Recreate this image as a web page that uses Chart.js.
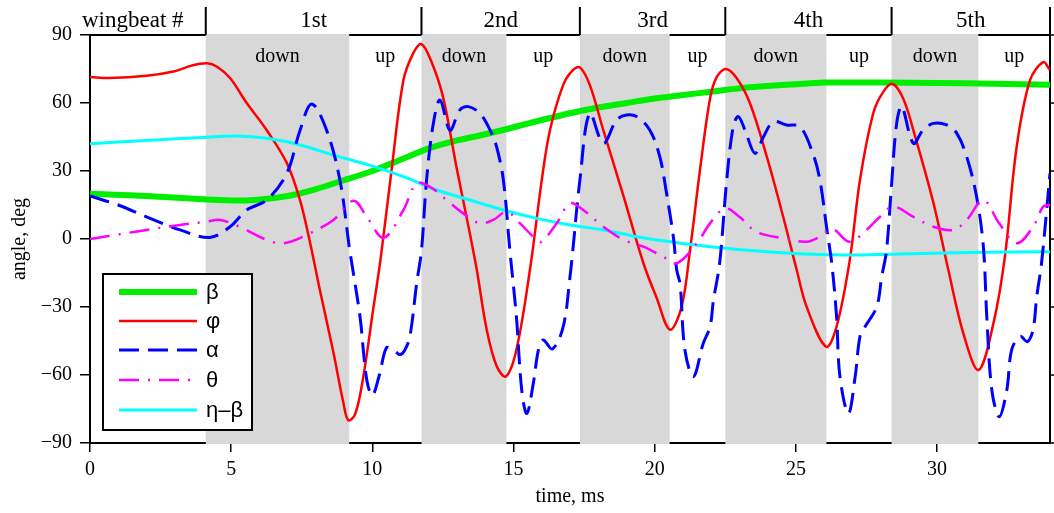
<!DOCTYPE html>
<html>
<head>
<meta charset="utf-8">
<script src="https://cdn.jsdelivr.net/npm/chart.js@4.4.1/dist/chart.umd.min.js"></script>
<style>
  html, body { margin: 0; padding: 0; background: #fff; }
  #wrap { width: 1054px; height: 513px; }
</style>
</head>
<body>
<div id="wrap"><canvas id="chart" width="1054" height="513"></canvas></div>
<script>
// fases do batimento (ms)
const downStart = [4.1, 11.74, 17.35, 22.5, 28.39];
const downEnd   = [9.18, 14.75, 20.53, 26.08, 31.46];
const wingbeatLabels = ['1st', '2nd', '3rd', '4th', '5th'];
const xMax = 34;

// beta
const betaT = [0, 2, 4, 5.5, 7, 8, 9, 10, 11, 12, 13, 14, 15, 16, 17, 18, 19, 20, 21, 22, 23, 24, 25, 26, 27, 28, 30, 32, 34];
const betaV = [20, 19, 17.5, 17, 19, 22, 26, 30, 35, 40, 43.5, 46.2, 49.3, 52.5, 55.5, 58, 60, 62, 63.5, 65, 66.5, 67.5, 68.3, 69, 69, 69, 68.8, 68.5, 68];

// phi
const phiT = [0, 0.7, 2, 3, 3.6, 4.15, 4.5, 4.96, 5.55, 6.26, 6.97, 7.44, 7.8, 8.15, 8.62, 8.97, 9.15, 9.4, 9.68, 10.03, 10.3, 10.68, 11.1, 11.45, 11.74, 12.1, 12.5, 13.0, 13.46, 13.7, 14.05, 14.4, 14.73, 15.1, 15.58, 16.0, 16.29, 16.76, 17.1, 17.35, 17.7, 18.18, 18.9, 19.6, 20.07, 20.54, 20.95, 21.25, 21.6, 21.96, 22.2, 22.52, 22.9, 23.37, 23.97, 24.55, 25.03, 25.38, 26.07, 26.44, 26.9, 27.27, 27.74, 28.1, 28.43, 28.8, 29.16, 29.87, 30.4, 30.93, 31.47, 32.0, 32.4, 32.82, 33.29, 33.76, 34];
const phiV = [71.5, 71, 72, 74, 76.5, 77.5, 76, 71, 60, 48, 33.5, 17, -2, -23, -50, -72, -80, -77, -60.7, -31, -8, 30.4, 70, 82, 86, 78, 62.8, 30.4, 2, -13.7, -40, -56, -60.7, -49, -13.7, 26, 48, 68, 74.5, 75.7, 68, 48, 18.7, -10.7, -26, -40, -30, -5, 30, 62, 71.5, 75, 71, 60, 36.3, 9.8, -13.7, -29.9, -47.5, -38.7, -10, 26, 55.5, 65, 68.4, 62, 48, 16, -13.7, -41.6, -57.8, -37, -8, 40.7, 70, 78, 74.5];

// alpha
const alphaT = [0, 1, 2, 3.19, 4.25, 4.96, 5.55, 6.26, 6.97, 7.44, 7.85, 8.38, 8.85, 9.2, 9.56, 9.8, 10.0, 10.25, 10.5, 10.75, 10.98, 11.15, 11.33, 11.57, 11.74, 11.92, 12.16, 12.4, 12.75, 13.1, 13.4, 13.81, 14.17, 14.4, 14.64, 14.87, 15.1, 15.29, 15.47, 15.7, 15.88, 16.05, 16.38, 16.76, 17.0, 17.1, 17.35, 17.7, 18.18, 18.65, 19.0, 19.36, 19.83, 20.18, 20.4, 20.66, 20.78, 20.9, 21.07, 21.37, 21.72, 21.96, 22.08, 22.3, 22.55, 22.78, 22.96, 23.2, 23.55, 23.85, 24.2, 24.67, 25.15, 25.6, 25.85, 26.1, 26.27, 26.44, 26.56, 26.86, 27.1, 27.27, 27.45, 27.86, 28.04, 28.21, 28.4, 28.57, 28.75, 29.16, 29.5, 29.87, 30.34, 30.7, 31.05, 31.4, 31.64, 31.76, 31.94, 32.2, 32.47, 32.64, 32.94, 33.2, 33.4, 33.53, 33.7, 34];
const alphaV = [19, 15, 9.8, 4, 0.7, 5.4, 12.8, 17.2, 29, 48, 59.6, 48, 26, -5, -34, -62, -69, -60, -48, -49, -51, -49, -43, -19.5, -5, 26, 51, 61.3, 48, 57, 58.4, 55.4, 48, 40.7, 26, -5, -34, -66.6, -77, -63.7, -49, -44.6, -48.5, -38.7, -16.6, -5, 26, 55.4, 42.2, 52.5, 54.7, 54, 48, 36.3, 21.6, 1, -13.7, -20, -49, -60.7, -46, -38.7, -27, -10.7, 26, 49.5, 54, 48, 37.8, 45, 51.7, 50.3, 49.5, 37.8, 26, 4, -10.7, -34, -60.7, -77, -60.7, -43, -38.7, -30, -16.6, -5, 26, 51, 58.4, 42.2, 48, 51, 50.3, 46.6, 36.3, 18.7, -3.4, -34, -66.6, -78.4, -66.6, -49, -43, -45.3, -40, -25.4, -10.7, 29];

// theta
const thetaT = [0, 1, 2, 3.19, 4.13, 4.6, 5.3, 6.26, 6.85, 7.67, 8.62, 9.33, 9.8, 10.4, 11.1, 11.57, 12.04, 12.63, 13.22, 13.81, 14.28, 14.76, 15.23, 15.82, 16.0, 16.53, 17.0, 17.47, 18.18, 18.9, 19.6, 20.3, 20.78, 21.49, 21.96, 22.49, 23.0, 23.6, 24.55, 25.38, 25.85, 26.3, 26.9, 27.5, 27.98, 28.45, 29.16, 29.87, 30.58, 31.05, 31.64, 32.2, 32.82, 33.4, 33.76, 34];
const thetaV = [0, 2, 4, 6.2, 7.6, 8.4, 5.4, -0.4, -1.9, 1.8, 8.4, 16.9, 9.8, 0.5, 12.8, 24.6, 23, 17.2, 11.3, 6.9, 8.4, 12, 6.9, -0.4, -1.2, 6.9, 15.7, 12.8, 5.4, -0.4, -3.4, -7.8, -10.7, -1.9, 6.9, 13.5, 9.8, 3.2, 0.3, -1.2, 1, 4.3, -1.2, 4, 9.8, 14.3, 9.8, 5.4, 4, 8.4, 17.2, 6.9, -1.9, 5.4, 14.3, 15];

// eta - beta
const etaT = [0, 2, 4.13, 5.19, 6.26, 7.44, 8.62, 9.9, 11.1, 12.28, 13.46, 14.64, 15.82, 17, 18.18, 19.36, 20.54, 21.96, 23.97, 26.3, 28.7, 31.05, 34];
const etaV = [42, 43.5, 44.9, 45.4, 44.4, 41.5, 37, 32.6, 27.5, 21.6, 17.2, 12.8, 9.1, 6.2, 4, 1, -1.2, -3.4, -5.6, -7, -6.6, -6, -5.6];

const pts = (t, v) => t.map((x, i) => ({x, y: v[i]}));

const SERIF = '"Liberation Serif", "Times New Roman", serif';

const decor = {
  id: 'decor',
  beforeDatasetsDraw(chart) {
    const {ctx, chartArea: a, scales: {x, y}} = chart;
    ctx.save();
    ctx.strokeStyle = '#000';
    ctx.lineWidth = 2;
    // borda superior e direita
    ctx.beginPath();
    ctx.moveTo(a.left, a.top); ctx.lineTo(a.right, a.top);
    ctx.moveTo(a.right, 7); ctx.lineTo(a.right, a.bottom);
    ctx.stroke();
    // ticks da direita
    ctx.lineWidth = 1.5;
    ctx.beginPath();
    y.ticks.forEach(t => {
      const py = y.getPixelForValue(t.value);
      ctx.moveTo(a.right, py); ctx.lineTo(a.right + 8, py);
    });
    ctx.stroke();
    // faixas cinzas (downstroke)
    ctx.fillStyle = '#d8d8d8';
    downStart.forEach((s, i) => {
      const x0 = x.getPixelForValue(s), x1 = x.getPixelForValue(downEnd[i]);
      ctx.fillRect(x0, a.top - 1, x1 - x0, a.bottom - a.top + 2);
    });
    // cabeçalho
    ctx.lineWidth = 2;
    ctx.beginPath();
    downStart.forEach(s => {
      const px = x.getPixelForValue(s);
      ctx.moveTo(px, 7); ctx.lineTo(px, a.top);
    });
    ctx.stroke();
    ctx.fillStyle = '#000';
    ctx.font = '23px ' + SERIF;
    ctx.textBaseline = 'alphabetic';
    ctx.textAlign = 'left';
    ctx.fillText('wingbeat #', 82, 27);
    ctx.textAlign = 'center';
    wingbeatLabels.forEach((lab, i) => {
      const s = downStart[i], e = i < downStart.length - 1 ? downStart[i + 1] : xMax;
      ctx.fillText(lab, (x.getPixelForValue(s) + x.getPixelForValue(e)) / 2, 27);
    });
    // down / up
    ctx.font = '20px ' + SERIF;
    downStart.forEach((s, i) => {
      const e = downEnd[i];
      const n = i < downStart.length - 1 ? downStart[i + 1] : xMax;
      ctx.fillText('down', (x.getPixelForValue(s) + x.getPixelForValue(e)) / 2, 62);
      ctx.fillText('up', (x.getPixelForValue(e) + x.getPixelForValue(n)) / 2, 62);
    });
    ctx.restore();
  },
  afterDatasetsDraw(chart) {
    const {ctx} = chart;
    ctx.save();
    const bx = 103, by = 274, bw = 149, bh = 156;
    ctx.fillStyle = '#fff';
    ctx.fillRect(bx, by, bw, bh);
    ctx.strokeStyle = '#000';
    ctx.lineWidth = 2;
    ctx.strokeRect(bx, by, bw, bh);
    const rows = [292, 321, 350, 380, 410];
    ctx.font = '22px "Liberation Sans", Arial, sans-serif';
    ctx.textBaseline = 'middle';
    ctx.textAlign = 'left';
    chart.data.datasets.forEach((ds, i) => {
      const ry = rows[i];
      ctx.strokeStyle = ds.borderColor;
      ctx.lineWidth = ds.borderWidth;
      ctx.setLineDash(ds.borderDash || []);
      ctx.beginPath();
      ctx.moveTo(119, ry); ctx.lineTo(197, ry);
      ctx.stroke();
      ctx.setLineDash([]);
      ctx.fillStyle = '#000';
      ctx.fillText(ds.label, 206, ry + 1);
    });
    ctx.restore();
  }
};

new Chart(document.getElementById('chart'), {
  type: 'line',
  data: {
    datasets: [
      { label: 'β', data: pts(betaT, betaV), borderColor: '#00ee00', borderWidth: 6, order: 5 },
      { label: 'φ', data: pts(phiT, phiV), borderColor: '#ff0000', borderWidth: 2.5, order: 4 },
      { label: 'α', data: pts(alphaT, alphaV), borderColor: '#0000ff', borderWidth: 3, borderDash: [20, 9], order: 2 },
      { label: 'θ', data: pts(thetaT, thetaV), borderColor: '#ff00ff', borderWidth: 2.5, borderDash: [20, 9, 2, 9], order: 1 },
      { label: 'η–β', data: pts(etaT, etaV), borderColor: '#00ffff', borderWidth: 3, order: 3 }
    ]
  },
  options: {
    responsive: false,
    devicePixelRatio: 1,
    animation: false,
    events: [],
    layout: { padding: { top: 35, right: 4, left: 0, bottom: 0 } },
    elements: {
      point: { radius: 0 },
      line: { tension: 0.35, fill: false }
    },
    plugins: { legend: { display: false }, tooltip: { enabled: false } },
    scales: {
      x: {
        type: 'linear', min: 0, max: xMax,
        ticks: { stepSize: 5, includeBounds: false, color: '#000', font: { family: SERIF, size: 20 }, padding: 6, maxRotation: 0 },
        grid: { drawOnChartArea: false, drawTicks: true, tickLength: 9, color: '#000', lineWidth: 1.5 },
        border: { display: true, color: '#000', width: 2 },
        title: { display: true, text: 'time, ms', color: '#000', font: { family: SERIF, size: 20 }, padding: 4 },
        afterFit(s) { s.height = 70; }
      },
      y: {
        min: -90, max: 90,
        ticks: { stepSize: 30, color: '#000', font: { family: SERIF, size: 20 }, padding: 8,
          callback: v => v < 0 ? '\u2212' + Math.abs(v) : String(v) },
        grid: { drawOnChartArea: false, drawTicks: true, tickLength: 10, color: '#000', lineWidth: 1.5 },
        border: { display: true, color: '#000', width: 2 },
        title: { display: true, text: 'angle, deg', color: '#000', font: { family: SERIF, size: 20 }, padding: 8 },
        afterFit(s) { s.width = 90; }
      }
    }
  },
  plugins: [decor]
});
</script>
</body>
</html>
